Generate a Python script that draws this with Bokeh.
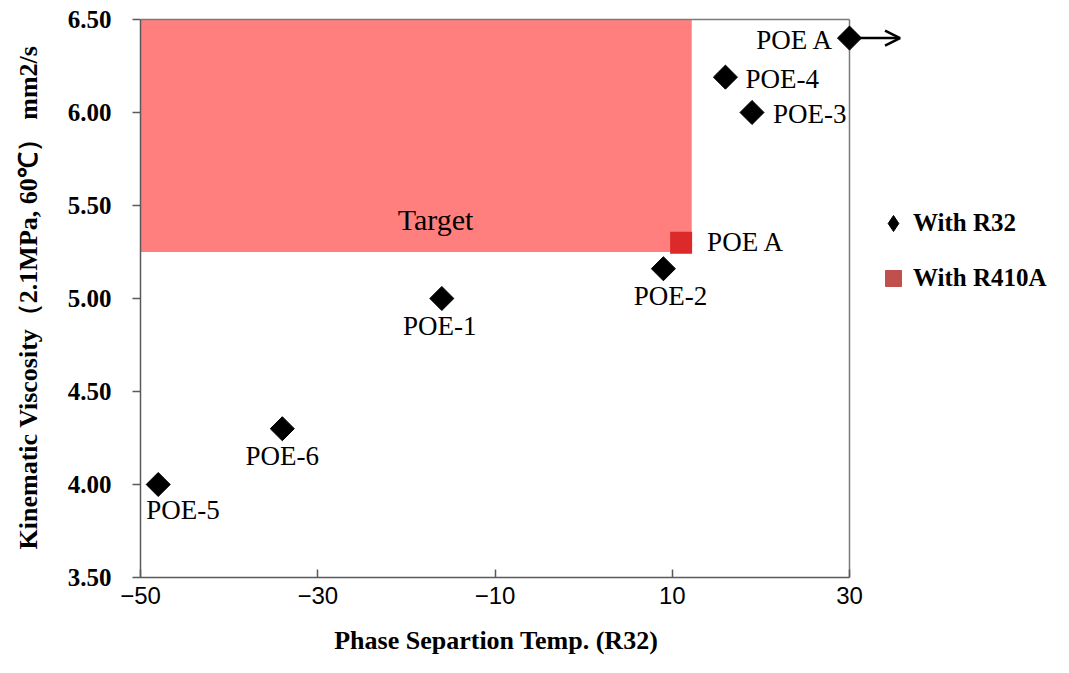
import numpy as np
from bokeh.plotting import figure
from bokeh.models import (Range1d, FixedTicker, NumeralTickFormatter, Label, Arrow,
                          OpenHead, Legend, LegendItem, ColumnDataSource)
from bokeh.core.properties import value
from bokeh.embed import file_html
from bokeh.resources import INLINE

# ---------------- data ----------------
r32_names = ["POE-5", "POE-6", "POE-1", "POE-2", "POE-4", "POE-3", "POE A"]
r32_temp = [-48, -34, -16, 9, 16, 19, 30]
r32_visc = [4.00, 4.30, 5.00, 5.16, 6.19, 6.00, 6.40]

r410_names = ["POE A"]
r410_temp = [11]
r410_visc = [5.30]

target_temp = [-50, 12.2]
target_visc = [5.25, 6.50]

x_ticks = [-50, -30, -10, 10, 30]
x_tick_labels = ["\u221250", "\u221230", "\u221210", "10", "30"]
y_ticks = [3.5, 4.0, 4.5, 5.0, 5.5, 6.0, 6.5]

XLIM = (-50, 30)
YLIM = (3.5, 6.5)

# ---------------- styles ----------------
r32_label_dx = [-12, 0, -2, 7, 20, 21, -16]
r32_label_dy = [26, 27, 28, 27, 2, 2, 2]
r32_label_align = ["left", "center", "center", "center", "left", "left", "right"]
r410_label_dx = [26]
r410_label_dy = [-1]
ARROW_LEN = 5.7
SERIF = "Liberation Serif"

W, H = 1053, 657
BL, BR, BT, BB = 140, 0, 4, 79
frame_w = W - BL - BR
frame_h = H - BT - BB
px_x = 709 / (XLIM[1] - XLIM[0])
px_y = 559 / (YLIM[1] - YLIM[0])
x_end = XLIM[0] + frame_w / px_x
y_end = YLIM[0] + frame_h / px_y

p = figure(width=W, height=H, x_range=Range1d(XLIM[0], x_end),
           y_range=Range1d(YLIM[0], y_end), output_backend="svg",
           toolbar_location=None, min_border_left=BL, min_border_right=BR,
           min_border_top=BT, min_border_bottom=BB)
p.outline_line_color = None
p.xgrid.grid_line_color = None
p.ygrid.grid_line_color = None
p.background_fill_color = "white"

AXC = "#5a5a5a"

xa = p.xaxis[0]
xa.ticker = FixedTicker(ticks=x_ticks)
xa.major_label_overrides = {t: l for t, l in zip(x_ticks, x_tick_labels)}
xa.bounds = XLIM
xa.major_tick_in = 8
xa.major_tick_out = 0
xa.minor_tick_line_color = None
xa.axis_line_color = AXC
xa.axis_line_width = 1.5
xa.major_tick_line_color = AXC
xa.major_tick_line_width = 1.5
xa.major_label_text_font = "Liberation Sans"
xa.major_label_text_font_size = "24px"
xa.major_label_text_color = "black"
xa.major_label_standoff = 9
# title centred under the -50..30 part of the axis (frame is wider, so pad with NBSP)
xa.axis_label = "Phase Separtion Temp. (R32)" + "\u00a0" * 31
xa.axis_label_text_font = SERIF
xa.axis_label_text_font_style = "bold"
xa.axis_label_text_font_size = "26px"
xa.axis_label_text_color = "black"
xa.axis_label_standoff = 19

ya = p.yaxis[0]
ya.ticker = FixedTicker(ticks=y_ticks)
ya.formatter = NumeralTickFormatter(format="0.00")
ya.bounds = YLIM
ya.major_tick_in = 0
ya.major_tick_out = 8
ya.minor_tick_line_color = None
ya.axis_line_color = AXC
ya.axis_line_width = 1.5
ya.major_tick_line_color = AXC
ya.major_tick_line_width = 1.5
ya.major_label_text_font = SERIF
ya.major_label_text_font_style = "bold"
ya.major_label_text_font_size = "25px"
ya.major_label_text_color = "black"
ya.major_label_standoff = 21
ya.axis_label = "Kinematic Viscosity\uff082.1MPa, 60\u2103\uff09 mm2/s" + "\u00a0" * 2
ya.axis_label_text_font = SERIF
ya.axis_label_text_font_style = "bold"
ya.axis_label_text_font_size = "26px"
ya.axis_label_text_color = "black"
ya.axis_label_standoff = 22

# target region
p.quad(left=[target_temp[0]], right=[target_temp[1]], bottom=[target_visc[0]],
       top=[target_visc[1]], fill_color="#FF7F7F", line_color=None)

# frame borders (top and right)
p.segment(x0=[XLIM[0], XLIM[1]], y0=[YLIM[1], YLIM[0]],
          x1=[XLIM[1], XLIM[1]], y1=[YLIM[1], YLIM[1]],
          line_color="#7a7a7a", line_width=1.5)

# arrow for POE A beyond range
p.add_layout(Arrow(x_start=r32_temp[-1], y_start=r32_visc[-1],
                   x_end=r32_temp[-1] + ARROW_LEN, y_end=r32_visc[-1],
                   line_width=2.5, line_color="black",
                   end=OpenHead(size=15, line_width=2.5, line_color="black"),
                   level="underlay"))

# points
src32 = ColumnDataSource(dict(x=r32_temp, y=r32_visc, name=r32_names))
p.scatter("x", "y", source=src32, marker="square", angle=np.pi / 4, size=17,
          fill_color="black", line_color="black")

src410 = ColumnDataSource(dict(x=r410_temp, y=r410_visc, name=r410_names,
                               dx=r410_label_dx, dy=r410_label_dy))
p.scatter("x", "y", source=src410, marker="square", size=22,
          fill_color="#DC2A2A", line_color=None)

# point labels
for al in ["left", "center", "right"]:
    idx = [i for i, a in enumerate(r32_label_align) if a == al]
    s = ColumnDataSource(dict(x=[r32_temp[i] for i in idx], y=[r32_visc[i] for i in idx],
                              t=[r32_names[i] for i in idx],
                              dx=[r32_label_dx[i] for i in idx],
                              dy=[r32_label_dy[i] for i in idx]))
    p.text("x", "y", text="t", source=s, x_offset="dx", y_offset="dy",
           text_align=al, text_baseline="alphabetic",
           text_font=value(SERIF), text_font_size="27px", text_color="black")

p.text("x", "y", text="name", source=src410, x_offset="dx", y_offset="dy",
       text_align="left", text_baseline="alphabetic",
       text_font=value(SERIF), text_font_size="27px", text_color="black")

# Target label
p.add_layout(Label(x=-16.7, y=5.425, text="Target", text_align="center",
                   text_baseline="alphabetic", text_font=SERIF,
                   text_font_size="30px", text_color="black"))

# legend (stand-in renderers carry the legend styling)
leg_r32 = p.scatter(x=[np.nan], y=[np.nan], marker="diamond",
                    fill_color="black", line_color="black")
leg_410 = p.scatter(x=[np.nan], y=[np.nan], marker="square",
                    fill_color="#C0504D", line_color="#C0504D")
legend = Legend(items=[LegendItem(label="With R32", renderers=[leg_r32]),
                       LegendItem(label="With R410A", renderers=[leg_410])],
                location=(733, 279), glyph_width=40, glyph_height=40, spacing=15,
                padding=0, margin=0, border_line_color=None, background_fill_alpha=0,
                label_text_font=SERIF, label_text_font_style="bold",
                label_text_font_size="25px", label_text_color="black",
                label_standoff=-5)
p.add_layout(legend)

open("out.html", "w").write(file_html(p, INLINE))
